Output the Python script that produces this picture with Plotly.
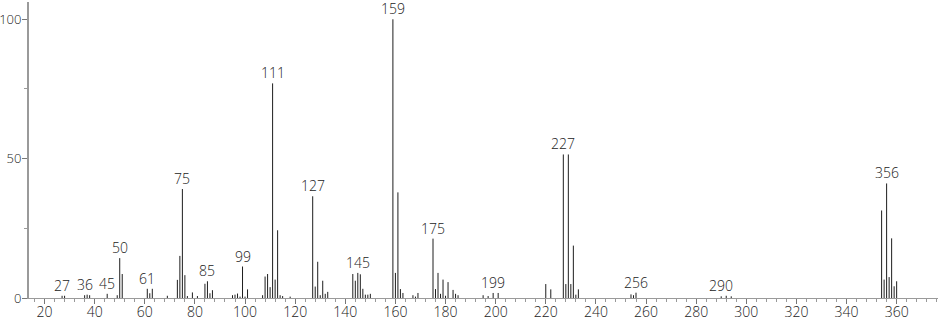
import plotly.graph_objects as go

# m/z values and relative intensities
mz = [27, 28, 36, 37, 38, 45, 49, 50, 51, 61, 62, 63, 69, 73, 74, 75, 76, 77, 79, 81,
      84, 85, 86, 87, 95, 96, 97, 98, 99, 100, 101, 107, 108, 109, 110, 111, 112, 113,
      114, 115, 118, 127, 128, 129, 130, 131, 132, 133, 143, 144, 145, 146, 147, 148,
      149, 150, 159, 160, 161, 162, 163, 167, 168, 169, 175, 176, 177, 178, 179, 180,
      181, 183, 184, 185, 195, 197, 199, 201, 220, 222, 227, 228, 229, 230, 231, 232,
      233, 254, 255, 256, 290, 292, 294, 354, 355, 356, 357, 358, 359, 360]
intensity = [0.8, 0.8, 1.0, 1.2, 1.0, 1.5, 1.0, 14.3, 8.6, 3.3, 1.7, 3.3, 0.8, 6.5, 15.1,
             39.1, 8.2, 0.7, 2.0, 0.7, 5.1, 6.0, 1.7, 2.8, 1.0, 1.2, 1.6, 0.5, 11.3, 0.5,
             3.1, 1.0, 7.7, 8.6, 3.9, 77.0, 6.6, 24.3, 1.0, 0.7, 0.5, 36.5, 4.1, 13.0,
             1.0, 6.2, 1.5, 2.2, 8.6, 6.2, 9.0, 8.5, 3.3, 1.2, 1.2, 1.5, 100.0, 9.0,
             37.9, 3.2, 1.8, 1.0, 0.5, 1.8, 21.3, 3.2, 9.0, 1.5, 6.6, 0.8, 5.7, 2.9,
             1.5, 1.0, 1.0, 0.7, 1.8, 1.8, 5.0, 3.1, 51.5, 5.0, 51.5, 5.0, 18.8, 1.2,
             3.1, 1.3, 1.0, 1.9, 0.6, 0.8, 0.6, 31.4, 6.6, 41.1, 7.5, 21.4, 4.2, 6.0]

labeled_mz = [27, 36, 45, 50, 61, 75, 85, 99, 111, 127, 145, 159, 175, 199, 227, 256, 290, 356]

x_ticks = [20, 40, 60, 80, 100, 120, 140, 160, 180, 200, 220, 240, 260, 280, 300, 320, 340, 360]
y_ticks = [0, 50, 100]

lookup = dict(zip(mz, intensity))
lx, ly = [], []
for m, h in zip(mz, intensity):
    lx += [m, m, None]
    ly += [0, h, None]

FONT = "Open Sans"
fig = go.Figure()
fig.add_trace(go.Scatter(x=lx, y=ly, mode="lines",
                         line=dict(color="#1e1e1e", width=1),
                         hoverinfo="skip", showlegend=False))

for m in labeled_mz:
    h = max(lookup.get(k, 0) for k in range(m - 1, m + 3)) if m in (27, 36, 290, 256, 199) else lookup[m]
    fig.add_annotation(x=m, y=h, text=str(m), showarrow=False, yanchor="bottom",
                       xanchor="center", yshift=-1,
                       font=dict(family=FONT, size=14, color="#222222", weight=300))

fig.update_layout(
    width=940, height=320,
    margin=dict(l=29, r=2, t=2, b=22, autoexpand=False),
    paper_bgcolor="white", plot_bgcolor="white",
    showlegend=False,
    font=dict(family=FONT, size=14, color="#222222", weight=300),
)
fig.update_xaxes(range=[13.8, 376.5], showgrid=False, zeroline=False, automargin=False,
                 showline=True, linecolor="#9a9a9a", linewidth=1,
                 tickmode="array", tickvals=x_ticks, ticktext=[str(v) for v in x_ticks],
                 ticks="outside", ticklen=5, tickcolor="#777777", tickwidth=1,
                 ticklabelstandoff=-4,
                 minor=dict(dtick=4, tick0=0, ticks="outside", ticklen=3,
                            tickcolor="#999999", tickwidth=1, showgrid=False),
                 tickfont=dict(size=14, color="#222222"))
fig.update_yaxes(range=[0, 106.2], showgrid=False, zeroline=False, automargin=False,
                 showline=True, linecolor="#9a9a9a", linewidth=2,
                 tickmode="array", tickvals=y_ticks, ticktext=[str(v) for v in y_ticks],
                 ticks="outside", ticklen=5, tickcolor="#777777", tickwidth=1,
                 ticklabelstandoff=-2,
                 minor=dict(tickvals=[25, 75], ticks="outside", ticklen=3,
                            tickcolor="#999999", tickwidth=1, showgrid=False),
                 tickfont=dict(size=13, color="#222222"))

fig.write_html("out.html")
